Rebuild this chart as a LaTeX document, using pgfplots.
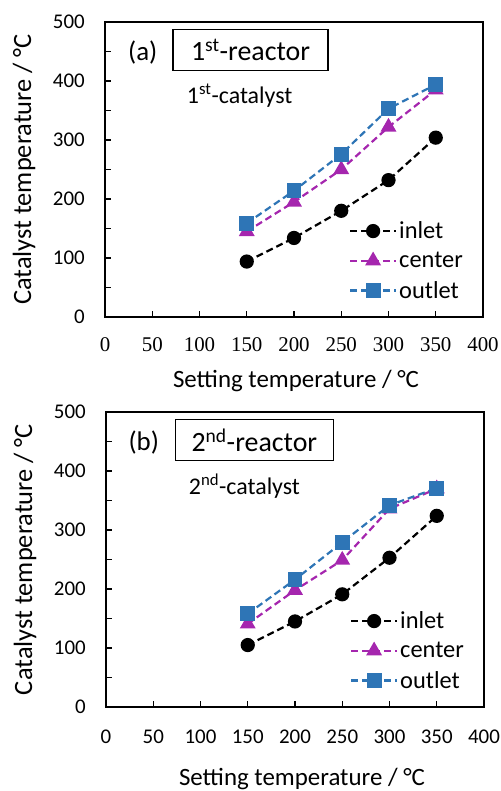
\documentclass[border=0pt]{standalone}
\usepackage{fontspec}
\setmainfont{Carlito}
\newfontfamily\timesfont{Liberation Serif}
\usepackage{pgfplots}
\pgfplotsset{compat=1.18}
\definecolor{cinlet}{HTML}{000000}
\definecolor{ccenter}{HTML}{A526AE}
\definecolor{coutlet}{HTML}{2E75B6}

\pgfplotsset{
  panel/.style={
    scale only axis, width=378bp, height=295bp,
    xmin=0, xmax=400, ymin=0, ymax=500,
    xtick={0,50,...,400}, ytick={0,100,...,500},
    minor ytick={50,150,...,450},
    tick align=inside, tick pos=left,
    major tick length=6bp, minor tick length=6bp,
    axis line style={line width=1.3bp},
    every tick/.style={black, line width=1.3bp},
    /pgf/number format/assume math mode=true,
    yticklabel style={font=\fontsize{21}{24}\selectfont, anchor=east,
      inner sep=0pt, xshift=-20bp},
    xticklabel style={anchor=center, inner sep=0pt},
    ylabel={Catalyst temperature / °C},
    xlabel={Setting temperature / °C},
    every axis y label/.style={at={(rel axis cs:0,0.5)}, rotate=90,
      anchor=center, yshift=81bp, font=\fontsize{26.5}{29}\selectfont},
    every axis x label/.style={at={(rel axis cs:0.5,0)}, anchor=center,
      font=\fontsize{25}{29}\selectfont},
    clip=false,
    legend cell align=left,
    legend style={draw=none, fill=none, font=\fontsize{24.5}{28}\selectfont,
      at={(rel axis cs:0.645,0.33)}, anchor=north west,
      row sep=8bp, inner sep=0pt},
    legend image code/.code={
      \draw[#1, mark repeat=2, mark phase=2]
        plot coordinates {(0bp,0bp) (23bp,0bp) (46bp,0bp)};},
    every axis plot/.append style={line width=2.2bp, dash pattern=on 7bp off 4bp},
  },
  inl/.style={cinlet, mark=*, mark size=6bp, mark options={solid, fill=cinlet}},
  cen/.style={ccenter, mark=triangle*, mark size=7bp, mark options={solid, fill=ccenter}},
  out/.style={coutlet, mark=square*, mark size=6.3bp, mark options={solid, fill=coutlet}},
}

\begin{document}
\begin{tikzpicture}[x=1bp, y=1bp]
\path[use as bounding box] (0,0) rectangle (501,-791);

% panel (a) -- x tick numbers in a serif face, as in the source figure
\begin{axis}[panel, at={(105bp,-317bp)}, anchor=south west,
  xticklabel={{\timesfont\fontsize{21}{24}\selectfont\pgfmathprintnumber{\tick}}},
  xticklabel style={yshift=-28bp},
  xlabel style={xshift=2bp, yshift=-64bp}]
\addplot[inl] coordinates {(150,94) (200,134) (250,180) (300,232) (350,304)};
\addlegendentry{inlet}
\addplot[cen] coordinates {(150,145) (200,195) (250,250) (300,322) (350,385)};
\addlegendentry{center}
\addplot[out] coordinates {(150,159) (200,214) (250,276) (300,353) (350,394)};
\addlegendentry{outlet}
\node[font=\fontsize{27}{30}\selectfont] at (axis cs:40,449) {(a)};
\node[draw, line width=1.3bp, minimum width=155bp, minimum height=41bp,
  inner sep=0pt, font=\fontsize{28}{30}\selectfont] at (axis cs:154,452)
  {1\textsuperscript{st}-reactor};
\node[font=\fontsize{24}{27}\selectfont, anchor=west] at (axis cs:83,375)
  {1\textsuperscript{st}-catalyst};
\end{axis}

% panel (b)
\begin{axis}[panel, at={(106bp,-707bp)}, anchor=south west,
  xticklabel style={font=\fontsize{21}{24}\selectfont, yshift=-30bp},
  xlabel style={xshift=7bp, yshift=-72bp}]
\addplot[inl] coordinates {(150,105) (200,145) (250,191) (300,253) (350,324)};
\addlegendentry{inlet}
\addplot[cen] coordinates {(150,141) (200,198) (250,249) (300,336) (350,370)};
\addlegendentry{center}
\addplot[out] coordinates {(150,158) (200,216) (250,279) (300,342) (350,371)};
\addlegendentry{outlet}
\node[font=\fontsize{27}{30}\selectfont] at (axis cs:40,449) {(b)};
\node[draw, line width=1.3bp, minimum width=158bp, minimum height=41bp,
  inner sep=0pt, font=\fontsize{28}{30}\selectfont] at (axis cs:157,452)
  {2\textsuperscript{nd}-reactor};
\node[font=\fontsize{24}{27}\selectfont, anchor=west] at (axis cs:84,375)
  {2\textsuperscript{nd}-catalyst};
\end{axis}
\end{tikzpicture}
\end{document}
